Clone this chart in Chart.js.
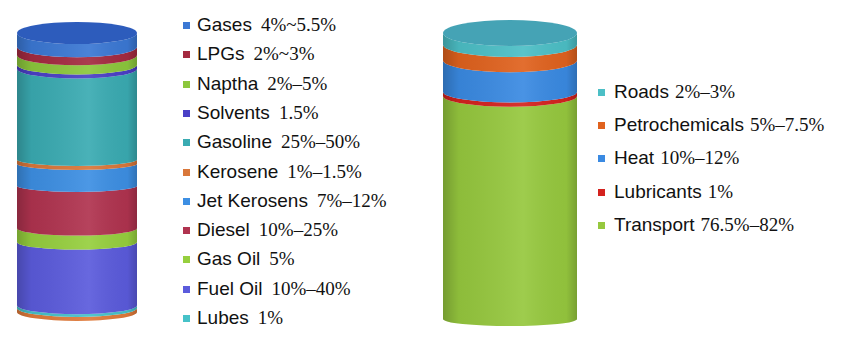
<!DOCTYPE html>
<html>
<head>
<meta charset="utf-8">
<script src="https://cdn.jsdelivr.net/npm/chart.js@4"></script>
<style>
    body { margin: 0; background: #fff; }
    #wrap { position: relative; width: 850px; height: 340px; overflow: hidden; }
    canvas { position: absolute; top: 0; }
    .row { position: absolute; height: 20px; line-height: 20px; white-space: nowrap; color: #111; }
    .sq { position: absolute; width: 7px; height: 7px; top: 7px; }
    .lab { position: absolute; font-family: "Liberation Sans", Arial, sans-serif; font-size: 19px; }
    .rng { font-family: "Liberation Serif", "Times New Roman", serif; font-size: 19px; }
</style>
</head>
<body>
<div id="wrap">
    <canvas id="leftChart" width="120" height="340" style="left:17px"></canvas>
    <canvas id="rightChart" width="134" height="340" style="left:443px"></canvas>
</div>
<script>
// Refinery products (top of cylinder first)
const productLabels = ["Gases", "LPGs", "Naptha", "Solvents", "Gasoline", "Kerosene", "Jet Kerosens", "Diesel", "Gas Oil", "Fuel Oil", "Lubes"];
const productRanges = ["4%~5.5%", "2%~3%", "2%–5%", "1.5%", "25%–50%", "1%–1.5%", "7%–12%", "10%–25%", "5%", "10%–40%", "1%"];
const productValues = [5, 3, 3.5, 1.5, 33, 1.5, 8, 15.5, 5, 23, 1];
const productColors = ["#3b78d4", "#a42a40", "#8cc73c", "#4a40c6", "#3aabb2", "#d9773a", "#3d8fe3", "#b0334f", "#96cf3e", "#5b5bdc", "#46c2c8"];

// End uses (top of cylinder first)
const useLabels = ["Roads", "Petrochemicals", "Heat", "Lubricants", "Transport"];
const useRanges = ["2%–3%", "5%–7.5%", "10%–12%", "1%", "76.5%–82%"];
const useValues = [4, 5.5, 11, 1.5, 78];
const useColors = ["#4cbfc6", "#e0621e", "#3a8ae2", "#d4221e", "#96c83e"];

// draws the stacked bars as cylinder bands
const cylinder = {
    id: "cylinder",
    beforeDatasetsDraw(chart, args, opts) {
        const ctx = chart.ctx;
        const area = chart.chartArea;
        const ryAt = (y) => {
            const t = Math.max(0, Math.min(1, (y - area.top) / (area.bottom - area.top)));
            const r = opts.ry;
            return t < 0.5 ? r[0] + (r[1] - r[0]) * t * 2 : r[1] + (r[2] - r[1]) * (t - 0.5) * 2;
        };
        const band = (x, w, yTop, yBot, color) => {
            const rx = w / 2, l = x - rx, r = x + rx;
            ctx.beginPath();
            ctx.moveTo(l, yTop);
            ctx.lineTo(l, yBot);
            ctx.ellipse(x, yBot, rx, ryAt(yBot), 0, Math.PI, 0, true);
            ctx.lineTo(r, yTop);
            ctx.ellipse(x, yTop, rx, ryAt(yTop), 0, 0, Math.PI, false);
            ctx.closePath();
            ctx.fillStyle = color;
            ctx.fill();
            const g = ctx.createLinearGradient(l, 0, r, 0);
            g.addColorStop(0, "rgba(0,0,0,0.22)");
            g.addColorStop(0.12, "rgba(0,0,0,0.06)");
            g.addColorStop(0.6, "rgba(255,255,255,0.08)");
            g.addColorStop(0.92, "rgba(0,0,0,0.04)");
            g.addColorStop(1, "rgba(0,0,0,0.2)");
            ctx.fillStyle = g;
            ctx.fill();
        };
        ctx.save();
        let top = null;
        chart.data.datasets.forEach((ds, i) => {
            const bar = chart.getDatasetMeta(i).data[0];
            const p = bar.getProps(["x", "y", "base", "width"], true);
            if (i === 0 && opts.rim) band(p.x, p.width, p.base, p.base + opts.rimSize, opts.rim);
            band(p.x, p.width, p.y, p.base, ds.backgroundColor);
            top = p;
        });
        // top face
        ctx.beginPath();
        ctx.ellipse(top.x, top.y, top.width / 2, ryAt(top.y), 0, 0, Math.PI * 2);
        ctx.fillStyle = opts.topColor;
        ctx.fill();
        ctx.restore();
        return false;
    },
};

function makeCylinder(id, labels, values, colors, pad, cylOpts) {
    // first dataset sits at the bottom of the stack
    const datasets = labels.map((l, i) => ({ label: l, data: [values[i]], backgroundColor: colors[i] })).reverse();
    new Chart(document.getElementById(id), {
        type: "bar",
        data: { labels: [""], datasets },
        options: {
            responsive: false,
            animation: false,
            layout: { padding: pad },
            datasets: { bar: { barPercentage: 1, categoryPercentage: 1 } },
            scales: {
                x: { display: false, stacked: true },
                y: { display: false, stacked: true, min: 0, max: 100 },
            },
            plugins: { legend: { display: false }, tooltip: { enabled: false }, cylinder: cylOpts },
        },
        plugins: [cylinder],
    });
}

makeCylinder("leftChart", productLabels, productValues, productColors,
    { top: 33, bottom: 32, left: 0, right: 0 },
    { ry: [11, 6, 9], topColor: "#2d5cbc", rim: "#e07a3a", rimSize: 4 });
makeCylinder("rightChart", useLabels, useValues, useColors,
    { top: 33, bottom: 21, left: 0, right: 0 },
    { ry: [13, 8, 7], topColor: "#45a3b5" });

// legends with mixed fonts
function makeLegend(labels, ranges, colors, sqX, textX, y0, step, gap) {
    const wrap = document.getElementById("wrap");
    labels.forEach((l, i) => {
        const row = document.createElement("div");
        row.className = "row";
        row.style.left = sqX + "px";
        row.style.top = (y0 + i * step - 10) + "px";
        row.innerHTML = '<span class="sq" style="left:0;background:' + colors[i] + '"></span>' +
            '<span class="lab" style="left:' + (textX - sqX) + 'px">' + l +
            '<span class="rng" style="margin-left:' + gap + 'px">' + ranges[i] + '</span></span>';
        wrap.appendChild(row);
    });
}
makeLegend(productLabels, productRanges, productColors, 183, 197, 25, 29.3, 9);
makeLegend(useLabels, useRanges, useColors, 598, 614, 92, 33.2, 6);
</script>
</body>
</html>
